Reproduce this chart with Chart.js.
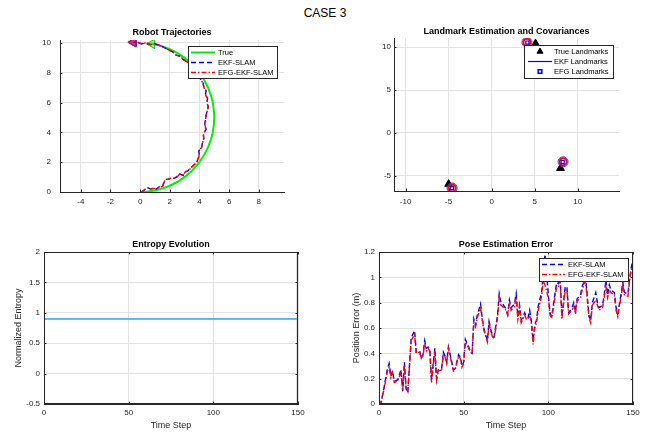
<!DOCTYPE html>
<html><head><meta charset="utf-8">
<script src="https://cdn.jsdelivr.net/npm/chart.js@4.4.1/dist/chart.umd.min.js"></script>
<style>
html,body{margin:0;padding:0;background:#fff;width:650px;height:432px;overflow:hidden;}
#suptitle{position:absolute;left:0;top:6px;width:650px;text-align:center;font:12px "Liberation Sans",Arial,sans-serif;line-height:14px;color:#000;}
canvas{position:absolute;}
</style></head><body>
<div id="suptitle">CASE 3</div>
<canvas id="c1" width="325" height="212" style="left:0;top:20px"></canvas>
<canvas id="c2" width="325" height="212" style="left:325px;top:20px"></canvas>
<canvas id="c3" width="325" height="200" style="left:0;top:232px"></canvas>
<canvas id="c4" width="325" height="200" style="left:325px;top:232px"></canvas>
<script>
// ---------- data ----------
const trueX = [0, 0.5, 1, 1.5, 2, 2.5, 3, 3.5, 4, 4.33, 4.58, 4.8, 4.9, 4.97, 5, 4.97, 4.9, 4.8, 4.58, 4.33, 4, 3.5, 3, 2.5, 2, 1.5, 1.1, 0.8];
const trueY = [0, 0.03, 0.1, 0.23, 0.42, 0.67, 1.0, 1.43, 2.0, 2.5, 3.0, 3.6, 4.0, 4.5, 5, 5.5, 6.0, 6.4, 7.0, 7.5, 8.0, 8.57, 9.0, 9.33, 9.58, 9.77, 9.88, 9.94];
const ekfX = [0.1, 0.3, 0.5, 0.7, 0.9, 1.1, 1.3, 1.5, 1.6, 1.7, 1.9, 2.1, 2.3, 2.5, 2.7, 2.9, 3.0, 3.2, 3.4, 3.6, 3.8, 3.9, 4.0, 3.95, 4.15, 4.2, 4.3, 4.25, 4.45, 4.35, 4.4, 4.45, 4.5, 4.6, 4.5, 4.55, 4.4, 4.45, 4.3, 4.25, 4.1, 4.0, 3.8, 3.6, 3.4, 3.2, 2.9, 2.7, 2.4, 2.2, 1.9, 1.6, 1.3, 1.0, 0.7, 0.4, 0.1, -0.2, -0.45];
const ekfY = [0.0, 0.15, 0.3, 0.2, 0.25, 0.2, 0.35, 0.35, 0.6, 0.85, 0.85, 0.95, 0.9, 1.05, 1.2, 1.1, 1.35, 1.4, 1.6, 1.8, 1.95, 2.2, 2.5, 2.75, 3.0, 3.3, 3.6, 3.9, 4.2, 4.5, 4.8, 5.1, 5.4, 5.7, 6.0, 6.3, 6.5, 6.8, 7.0, 7.3, 7.5, 7.8, 8.0, 8.2, 8.5, 8.7, 8.9, 9.1, 9.2, 9.4, 9.55, 9.7, 9.85, 9.95, 9.9, 10.0, 9.95, 10.05, 10.05];
const efgX = [0.1, 0.32, 0.48, 0.72, 0.92, 1.12, 1.28, 1.52, 1.58, 1.72, 1.92, 2.08, 2.32, 2.52, 2.68, 2.92, 3.02, 3.18, 3.42, 3.62, 3.78, 3.92, 3.98, 3.97, 4.13, 4.22, 4.28, 4.27, 4.43, 4.37, 4.42, 4.43, 4.52, 4.58, 4.52, 4.53, 4.42, 4.43, 4.32, 4.23, 4.12, 3.98, 3.82, 3.58, 3.42, 3.18, 2.92, 2.68, 2.42, 2.18, 1.92, 1.58, 1.32, 0.98, 0.72, 0.38, 0.12, -0.22, -0.45];
const efgY = [0.0, 0.17, 0.28, 0.22, 0.23, 0.22, 0.33, 0.37, 0.62, 0.83, 0.87, 0.93, 0.92, 1.03, 1.22, 1.12, 1.33, 1.42, 1.58, 1.82, 1.93, 2.22, 2.48, 2.77, 2.98, 3.32, 3.58, 3.92, 4.18, 4.52, 4.78, 5.12, 5.38, 5.72, 5.98, 6.32, 6.48, 6.82, 6.98, 7.32, 7.48, 7.82, 7.98, 8.22, 8.48, 8.72, 8.88, 9.12, 9.18, 9.42, 9.53, 9.72, 9.83, 9.97, 9.88, 10.02, 9.93, 10.07, 10.05];

const trueLmX = [5.1, 8.0, -5.0];
const trueLmY = [10.4, -4.1, -5.95];
const ekfLmX = [4.1, 8.3, -4.6];
const ekfLmY = [10.55, -3.35, -6.4];
const efgLmX = [4.15, 8.25, -4.62];
const efgLmY = [10.52, -3.38, -6.42];

const entropyT = [0, 50, 100, 150];
const entropyEkf = [0.903, 0.903, 0.903, 0.903];
const entropyEfg = [0.897, 0.897, 0.897, 0.897];

const timeSteps = [0,1,3,5,6,7,8,9,11,13,14,15,16,17,19,21,22,24,25,26,27,28,29,30,31,33,34,35,37,38,39,40,41,43,44,45,47,48,49,50,51,53,54,55,56,57,58,60,61,62,64,65,66,67,68,70,71,72,73,75,76,77,78,80,81,82,83,84,86,87,88,89,90,91,92,93,94,96,97,98,100,101,102,104,105,106,107,108,110,111,112,114,115,116,117,119,120,121,122,124,125,126,128,129,130,132,133,134,135,136,137,139,140,141,143,144,145,147,148,149,150];
const efgErr = [0,0,0.12,0.26,0.29,0.21,0.25,0.17,0.18,0.25,0.11,0.31,0.13,0.10,0.50,0.55,0.40,0.41,0.36,0.38,0.48,0.42,0.44,0.42,0.17,0.42,0.19,0.26,0.27,0.39,0.37,0.32,0.44,0.32,0.26,0.27,0.38,0.36,0.29,0.32,0.49,0.44,0.41,0.40,0.64,0.61,0.68,0.76,0.66,0.58,0.49,0.63,0.58,0.53,0.52,0.68,0.84,0.78,0.77,0.74,0.70,0.80,0.74,0.77,0.84,0.67,0.76,0.64,0.70,0.67,0.67,0.70,0.63,0.47,0.60,0.64,0.74,0.85,0.97,0.94,0.84,0.70,0.68,0.85,0.93,0.93,0.97,0.67,0.90,0.90,0.71,0.74,0.78,0.71,0.81,0.84,0.90,0.94,0.97,0.68,0.64,0.78,0.82,0.78,0.74,0.76,0.84,0.93,0.84,0.90,0.88,0.86,0.74,0.69,0.85,0.94,0.86,0.85,0.97,1.06,1.08];
const ekfErr = [0,0,0.13,0.28,0.32,0.22,0.26,0.18,0.19,0.27,0.10,0.33,0.12,0.09,0.52,0.58,0.41,0.42,0.36,0.39,0.50,0.44,0.45,0.43,0.19,0.44,0.20,0.27,0.28,0.41,0.38,0.33,0.45,0.33,0.27,0.28,0.39,0.37,0.30,0.33,0.51,0.45,0.41,0.40,0.67,0.62,0.70,0.79,0.67,0.59,0.50,0.65,0.59,0.54,0.53,0.70,0.87,0.80,0.79,0.75,0.71,0.82,0.76,0.79,0.87,0.69,0.78,0.66,0.72,0.69,0.68,0.74,0.65,0.50,0.63,0.66,0.77,0.88,1.02,1.18,0.86,0.72,0.69,0.88,0.96,0.95,1.00,0.69,0.93,0.92,0.72,0.76,0.80,0.73,0.83,0.86,0.93,0.96,1.00,0.70,0.66,0.80,0.88,0.80,0.76,0.78,0.86,0.98,0.86,0.94,0.90,0.88,0.76,0.71,0.87,0.96,0.88,0.87,0.99,1.08,1.14];

// ---------- helpers ----------
const FONT = '"Liberation Sans", Arial, Helvetica, sans-serif';
const AX = '#262626';
const GRID = '#e2e2e2';
const pts = (xs, ys) => xs.map((x, i) => ({x: x, y: ys[i]}));
const fmt = v => String(Math.round(v * 100) / 100);

const legends = {
  c1: {x: 188, y: 26, w: 89, h: 32, lineX: [191, 215], textX: 218, rows: [
    {label: 'True', kind: 'line', color: '#00ee00', width: 2, dash: []},
    {label: 'EKF-SLAM', kind: 'line', color: '#0000ff', width: 1.4, dash: [5, 3]},
    {label: 'EFG-EKF-SLAM', kind: 'line', color: '#ff0000', width: 1.4, dash: [5, 2, 1.5, 2]}]},
  c2: {x: 199, y: 25, w: 89, h: 33, lineX: [203, 227], textX: 229, rows: [
    {label: 'True Landmarks', kind: 'point', style: 'triangle', fill: '#000', color: '#000', r: 3.5},
    {label: 'EKF Landmarks', kind: 'line', color: '#0000ff', width: 1.2, dash: []},
    {label: 'EFG Landmarks', kind: 'point', style: 'rect', fill: 'rgba(0,0,0,0)', color: '#0000ff', r: 2.6, bw: 1.5}]},
  c4: {x: 214, y: 26, w: 89, h: 23, lineX: [217, 240], textX: 243, rows: [
    {label: 'EKF-SLAM', kind: 'line', color: '#0000ff', width: 1.4, dash: [5, 3]},
    {label: 'EFG-EKF-SLAM', kind: 'line', color: '#ff0000', width: 1.4, dash: [5, 2, 1.5, 2]}]}
};
const boxed = {c1: false, c2: false, c3: true, c4: true};

const matPlugin = {
  id: 'matStyle',
  afterDatasetsDraw(chart) {
    const {ctx, chartArea: a, scales} = chart;
    const box = boxed[chart.canvas.id];
    ctx.save();
    ctx.strokeStyle = AX; ctx.lineWidth = 1;
    const L = 2.5;
    ctx.beginPath();
    scales.x.ticks.forEach(t => {
      const px = Math.round(scales.x.getPixelForValue(t.value)) + 0.5;
      ctx.moveTo(px, a.bottom); ctx.lineTo(px, a.bottom - L);
      if (box) { ctx.moveTo(px, a.top); ctx.lineTo(px, a.top + L); }
    });
    scales.y.ticks.forEach(t => {
      const py = Math.round(scales.y.getPixelForValue(t.value)) + 0.5;
      ctx.moveTo(a.left, py); ctx.lineTo(a.left + L, py);
      if (box) { ctx.moveTo(a.right, py); ctx.lineTo(a.right - L, py); }
    });
    ctx.stroke();
    if (box) {
      ctx.strokeRect(Math.round(a.left) + 0.5, Math.round(a.top) + 0.5, Math.round(a.width) - 1, Math.round(a.height) - 1);
    }
    ctx.restore();
  },
  afterDraw(chart) {
    const lg = legends[chart.canvas.id];
    if (!lg) return;
    const ctx = chart.ctx;
    ctx.save();
    ctx.fillStyle = '#fff';
    ctx.fillRect(lg.x, lg.y, lg.w, lg.h);
    ctx.strokeStyle = AX; ctx.lineWidth = 1;
    ctx.strokeRect(lg.x + 0.5, lg.y + 0.5, lg.w, lg.h);
    lg.rows.forEach((r, i) => {
      const y = lg.y + 6.5 + i * 10;
      if (r.kind === 'line') {
        ctx.save();
        ctx.strokeStyle = r.color; ctx.lineWidth = r.width; ctx.setLineDash(r.dash);
        ctx.beginPath(); ctx.moveTo(lg.lineX[0], y); ctx.lineTo(lg.lineX[1], y); ctx.stroke();
        ctx.restore();
      } else {
        ctx.save();
        ctx.fillStyle = r.fill; ctx.strokeStyle = r.color; ctx.lineWidth = r.bw || 1;
        Chart.helpers.drawPoint(ctx, {pointStyle: r.style, rotation: 0, radius: r.r, borderWidth: r.bw || 1}, (lg.lineX[0] + lg.lineX[1]) / 2, y);
        ctx.restore();
      }
      ctx.fillStyle = '#000';
      ctx.font = '7.5px ' + FONT;
      ctx.textBaseline = 'middle';
      ctx.textAlign = 'left';
      ctx.fillText(r.label, lg.textX, y);
    });
    ctx.restore();
  }
};

function xScale(min, max, step, pad, h, title, tpad) {
  return {
    type: 'linear', position: 'bottom', min: min, max: max, bounds: 'ticks',
    ticks: {stepSize: step, includeBounds: false, padding: pad, autoSkip: false, maxRotation: 0,
      font: {family: FONT, size: 8}, color: AX, callback: v => fmt(v)},
    grid: {color: GRID, lineWidth: 1, drawTicks: false},
    border: {display: true, color: AX, width: 1},
    title: title ? {display: true, text: title, font: {family: FONT, size: 9}, color: AX, padding: tpad} : {display: false},
    afterFit(s) { s.height = h; }
  };
}
function yScale(min, max, step, pad, w, title, tpad) {
  return {
    type: 'linear', position: 'left', min: min, max: max, bounds: 'ticks',
    ticks: {stepSize: step, includeBounds: false, padding: pad, autoSkip: false,
      font: {family: FONT, size: 8}, color: AX, callback: v => fmt(v)},
    grid: {color: GRID, lineWidth: 1, drawTicks: false},
    border: {display: true, color: AX, width: 1},
    title: title ? {display: true, text: title, font: {family: FONT, size: 9}, color: AX, padding: tpad} : {display: false},
    afterFit(s) { s.width = w; }
  };
}
function baseOptions(title, tp, pr, scales) {
  return {
    responsive: false, animation: false, devicePixelRatio: 1,
    layout: {padding: {left: 0, right: pr, top: 0, bottom: 0}},
    plugins: {
      legend: {display: false}, tooltip: {enabled: false},
      title: {display: true, text: title, fullSize: false, color: '#000',
        font: {family: FONT, size: 9, weight: 'bold'}, padding: tp}
    },
    scales: scales
  };
}
const lineDs = (data, color, width, dash, order) => ({
  data: data, showLine: true, borderColor: color, backgroundColor: color, borderWidth: width,
  borderDash: dash, pointRadius: 0, fill: false, tension: 0, order: order
});

// ---------- chart 1: trajectories ----------
const tl = trueX.length - 1, el = ekfX.length - 1, fl = efgX.length - 1;
new Chart(document.getElementById('c1'), {
  type: 'scatter',
  data: {datasets: [
    {data: [{x: efgX[fl], y: efgY[fl]}], pointStyle: 'triangle', rotation: 270, pointRadius: 5.5,
      backgroundColor: 'rgba(255,0,0,0.5)', borderColor: 'rgba(200,0,60,0.9)', borderWidth: 1, order: 0},
    {data: [{x: ekfX[el], y: ekfY[el]}], pointStyle: 'triangle', rotation: 270, pointRadius: 5.5,
      backgroundColor: 'rgba(0,0,255,0.5)', borderColor: '#0000ff', borderWidth: 1, order: 1},
    lineDs(pts(efgX, efgY), '#ff0000', 1.4, [5, 2, 1.5, 2], 2),
    lineDs(pts(ekfX, ekfY), '#0000ff', 1.4, [5, 3], 3),
    {data: [{x: trueX[tl], y: trueY[tl]}], pointStyle: 'triangle', rotation: 270, pointRadius: 5.5,
      backgroundColor: 'rgba(0,238,0,0.4)', borderColor: '#00cc00', borderWidth: 1, order: 4},
    lineDs(pts(trueX, trueY), '#00ee00', 2, [], 5)
  ]},
  options: baseOptions('Robot Trajectories', {top: 6.9, bottom: 2.3}, 41, {
    x: xScale(-5.4, 9.7, 2, 4.9, 40),
    y: yScale(0, 10.2, 2, 9, 60)
  }),
  plugins: [matPlugin]
});

// ---------- chart 2: landmarks ----------
new Chart(document.getElementById('c2'), {
  type: 'scatter',
  data: {datasets: [
    {data: pts(efgLmX, efgLmY), pointStyle: 'rect', pointRadius: 2.2, borderColor: '#0000ff', borderWidth: 1.2,
      backgroundColor: 'rgba(0,0,0,0)', order: 0},
    {data: pts(ekfLmX, ekfLmY), pointStyle: 'circle', pointRadius: 3.6, borderColor: '#ff0000', borderWidth: 2,
      backgroundColor: 'rgba(0,0,0,0)', order: 1},
    {data: pts(ekfLmX, ekfLmY), pointStyle: 'circle', pointRadius: 5, borderColor: '#3a3aff', borderWidth: 1,
      backgroundColor: 'rgba(0,0,0,0)', order: 2},
    {data: pts(trueLmX, trueLmY), pointStyle: 'triangle', pointRadius: 4.5, borderColor: '#000', borderWidth: 1,
      backgroundColor: '#000', order: 3}
  ]},
  options: baseOptions('Landmark Estimation and Covariances', {top: 6.6, bottom: 0.6}, 31, {
    x: xScale(-11.35, 14.8, 5, 5.9, 41),
    y: yScale(-6.75, 11.05, 5, 3, 69)
  }),
  plugins: [matPlugin]
});

// ---------- chart 3: entropy ----------
new Chart(document.getElementById('c3'), {
  type: 'scatter',
  data: {datasets: [
    lineDs(pts(entropyT, entropyEfg), '#4dbeee', 1.6, [], 0),
    lineDs(pts(entropyT, entropyEkf), '#7f9f8f', 1.6, [], 1),
    lineDs([{x: 150, y: -0.5}, {x: 150, y: 2}], '#c8c8c8', 3, [], 2)
  ]},
  options: baseOptions('Entropy Evolution', {top: 7.6, bottom: 1.6}, 27, {
    x: xScale(0, 150, 50, 3.9, 28, 'Time Step', {top: 0, bottom: 0.9}),
    y: yScale(-0.5, 2, 0.5, 4, 44, 'Normalized Entropy', {top: 12.9, bottom: 0})
  }),
  plugins: [matPlugin]
});

// ---------- chart 4: pose error ----------
new Chart(document.getElementById('c4'), {
  type: 'scatter',
  data: {datasets: [
    lineDs(pts(timeSteps, efgErr), '#ff0000', 1.4, [5, 2, 1.5, 2], 0),
    lineDs(pts(timeSteps, ekfErr), '#0000ff', 1.4, [5, 3], 1)
  ]},
  options: baseOptions('Pose Estimation Error', {top: 7.6, bottom: 1.6}, 17, {
    x: xScale(0, 150, 50, 4.2, 28, 'Time Step', {top: 0, bottom: 0.9}),
    y: yScale(0, 1.2, 0.2, 4, 54, 'Position Error (m)', {top: 26.3, bottom: 0})
  }),
  plugins: [matPlugin]
});
</script>
</body></html>
